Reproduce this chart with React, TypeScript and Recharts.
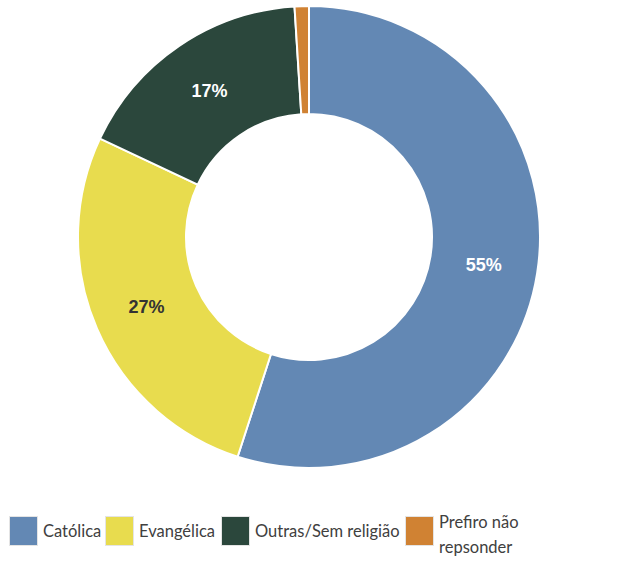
import React from 'react';
import { PieChart, Pie, Cell } from 'recharts';

const categories = ['Católica', 'Evangélica', 'Outras/Sem religião', 'Prefiro não repsonder'];
const values = [55, 27, 17, 1];
const labelTexts = ['55%', '27%', '17%', ''];

const COLORS = ['#6388B4', '#E8DC4E', '#2B473C', '#D08233'];
const LABEL_COLORS = ['#FFFFFF', '#333333', '#FFFFFF', '#FFFFFF'];

const data = categories.map((name, i) => ({ name, value: values[i] }));

const RADIAN = Math.PI / 180;

const renderLabel = (props: any) => {
  const { cx, cy, midAngle, innerRadius, outerRadius, index } = props;
  const r = (innerRadius + outerRadius) / 2;
  const x = cx + r * Math.cos(-midAngle * RADIAN);
  const y = cy + r * Math.sin(-midAngle * RADIAN);
  const text = labelTexts[index];
  if (!text) return null;
  return (
    <text
      x={x}
      y={y}
      fill={LABEL_COLORS[index]}
      textAnchor="middle"
      dominantBaseline="central"
      fontFamily="Liberation Sans, Arial, sans-serif"
      fontWeight="bold"
      fontSize={18}
    >
      {text}
    </text>
  );
};

const legendLeft = [9, 105, 221, 405];

function ChartLegend() {
  return (
    <div style={{ position: 'absolute', left: 0, top: 516, width: 617, height: 49 }}>
      {categories.map((name, i) => (
        <div
          key={name}
          style={{
            position: 'absolute',
            left: legendLeft[i],
            top: 0,
            display: 'flex',
            alignItems: 'flex-start',
            fontFamily: 'Lato, sans-serif',
            fontSize: 16.5,
            color: '#404040',
            lineHeight: '24px',
          }}
        >
          <div
            style={{
              width: 27,
              height: 28,
              background: COLORS[i],
              border: '1px solid #e4e4e4',
              marginRight: 5,
              flexShrink: 0,
            }}
          />
          {i === 3 ? (
            <div style={{ marginTop: -6, lineHeight: '25px' }}>
              Prefiro não
              <br />
              repsonder
            </div>
          ) : (
            <div style={{ whiteSpace: 'nowrap', marginTop: 3 }}>{name}</div>
          )}
        </div>
      ))}
    </div>
  );
}

export default function App() {
  return (
    <div style={{ position: 'absolute', left: 0, top: 0, width: 617, height: 565, background: '#fff' }}>
      <PieChart width={617} height={505} margin={{ top: 0, right: 0, bottom: 0, left: 0 }}>
        <Pie
          data={data}
          dataKey="value"
          nameKey="name"
          cx={309}
          cy={237}
          innerRadius={123}
          outerRadius={231}
          startAngle={90}
          endAngle={-270}
          stroke="#FFFFFF"
          strokeWidth={2}
          label={renderLabel}
          labelLine={false}
          isAnimationActive={false}
        >
          {data.map((entry, index) => (
            <Cell key={`cell-${index}`} fill={COLORS[index]} />
          ))}
        </Pie>
      </PieChart>
      <ChartLegend />
    </div>
  );
}
